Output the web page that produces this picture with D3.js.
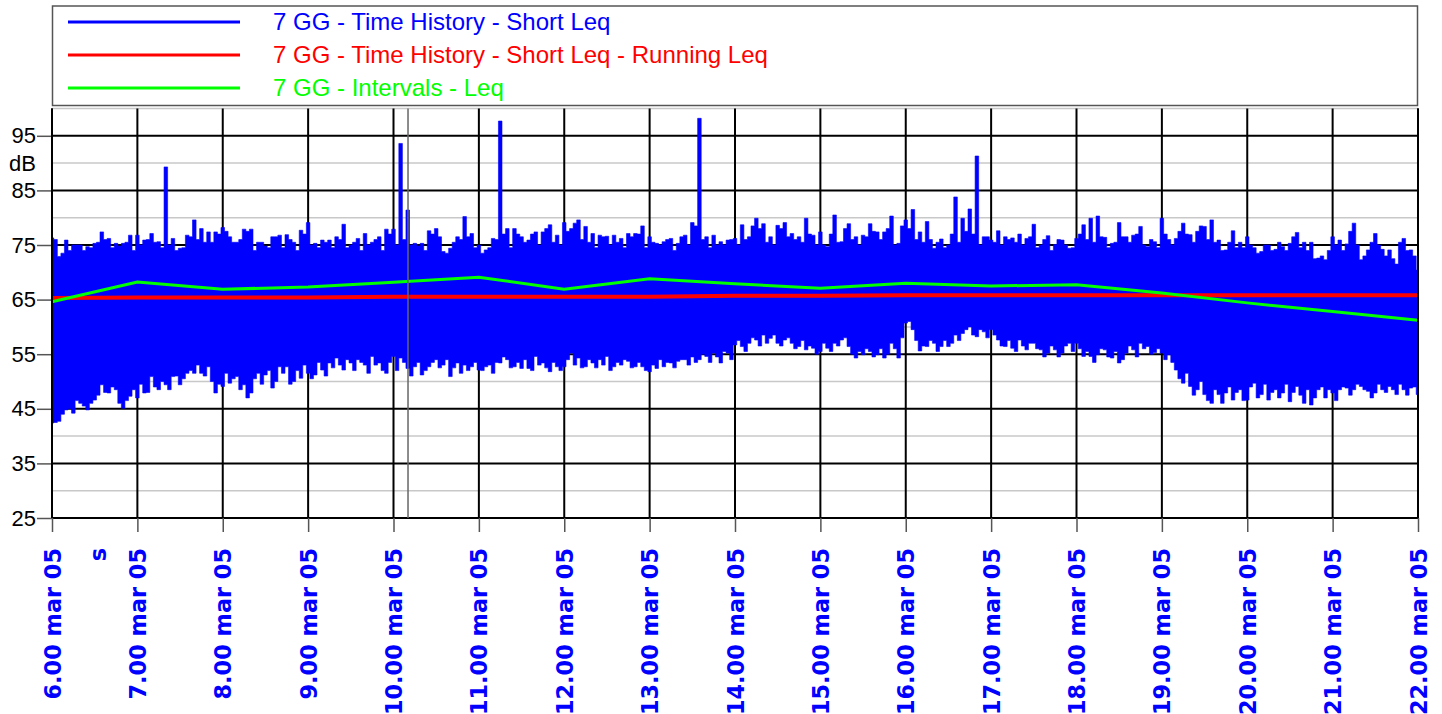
<!DOCTYPE html>
<html>
<head>
<meta charset="utf-8">
<script src="https://cdn.jsdelivr.net/npm/d3@7"></script>
<style>
  html, body { margin: 0; padding: 0; background: #fff; }
  svg { display: block; }
</style>
</head>
<body>
<svg id="chart" width="1442" height="714"></svg>
<script>
// ---- data ---------------------------------------------------------------
// hour ticks and their labels
const hourTicks = [6, 7, 8, 9, 10, 11, 12, 13, 14, 15, 16, 17, 18, 19, 20, 21, 22];
const hourLabels = ["6.00 mar 05", "7.00 mar 05", "8.00 mar 05", "9.00 mar 05", "10.00 mar 05",
  "11.00 mar 05", "12.00 mar 05", "13.00 mar 05", "14.00 mar 05", "15.00 mar 05", "16.00 mar 05",
  "17.00 mar 05", "18.00 mar 05", "19.00 mar 05", "20.00 mar 05", "21.00 mar 05", "22.00 mar 05"];
const majorDb = [25, 35, 45, 55, 65, 75, 85, 95];
const minorDb = [30, 40, 50, 60, 70, 80, 90, 100];

// Intervals - Leq (hourly)
const intervalLeq = [64.6, 68.2, 66.9, 67.3, 68.2, 69.1, 66.9, 68.8, 67.9, 67.1, 68.0, 67.5, 67.7, 66.2, 64.4, 62.8, 61.2];
// Short Leq - Running Leq (hourly)
const runningLeq = [65.3, 65.4, 65.4, 65.4, 65.5, 65.5, 65.5, 65.5, 65.7, 65.7, 65.8, 65.8, 65.8, 65.8, 65.8, 65.8, 65.8];

// Short Leq: maxima and minima on the 5-minute marks (6.00 -> 22.00)
const shortMax = [
  76.3, 72.9, 75.9, 75.0, 75.0, 74.7, 75.3, 77.4, 76.2, 75.3, 75.3, 76.8,
  76.8, 75.9, 77.1, 75.6, 89.3, 76.2, 74.4, 76.8, 79.6, 78.0, 77.4, 77.4,
  78.2, 76.5, 75.5, 77.9, 77.9, 75.5, 74.8, 76.5, 76.8, 76.9, 75.5, 77.7,
  79.1, 75.3, 75.9, 75.9, 76.5, 78.8, 75.0, 76.2, 77.1, 75.5, 76.5, 77.9,
  77.9, 93.6, 81.4, 75.3, 75.3, 77.6, 78.0, 73.8, 74.4, 76.5, 80.2, 77.1,
  75.0, 74.1, 76.2, 97.7, 78.0, 78.0, 76.5, 75.9, 77.4, 77.4, 78.7, 76.8,
  79.1, 78.0, 79.6, 78.4, 77.1, 76.8, 76.6, 76.8, 76.2, 77.1, 77.1, 78.5,
  76.5, 75.3, 75.6, 76.2, 75.3, 76.8, 79.1, 98.2, 76.5, 76.8, 75.6, 75.9,
  76.2, 78.7, 76.5, 79.9, 78.9, 76.5, 78.6, 79.1, 77.1, 76.5, 79.9, 76.8,
  77.4, 74.7, 80.5, 75.6, 78.9, 76.5, 76.8, 78.9, 77.4, 77.4, 80.3, 75.3,
  79.6, 81.5, 77.4, 79.3, 74.4, 76.1, 75.0, 83.8, 79.9, 81.6, 91.3, 76.5,
  75.9, 77.6, 76.5, 76.3, 77.0, 76.2, 78.8, 75.0, 76.7, 75.1, 75.9, 74.4,
  76.2, 78.7, 79.9, 80.3, 76.4, 75.3, 79.1, 76.5, 76.8, 78.4, 74.7, 75.6,
  79.9, 76.0, 76.2, 79.0, 76.9, 77.5, 78.4, 79.6, 75.9, 74.1, 77.6, 75.5,
  76.5, 74.5, 73.8, 75.0, 74.2, 74.7, 75.3, 77.3, 75.5, 75.5, 72.6, 72.3,
  76.5, 75.9, 75.2, 79.0, 72.3, 74.1, 77.1, 74.2, 74.1, 71.5, 76.2, 74.1,
  70.4];
const shortMin = [
  42.4, 42.7, 44.8, 44.2, 46.0, 44.8, 46.6, 49.4, 47.9, 48.5, 45.1, 47.3,
  47.0, 47.9, 50.9, 48.5, 49.4, 50.9, 49.4, 51.5, 51.5, 51.5, 52.7, 47.9,
  49.1, 49.7, 50.9, 49.4, 47.9, 51.5, 51.2, 48.8, 52.7, 52.7, 50.0, 50.6,
  51.5, 51.2, 52.1, 53.4, 54.3, 52.1, 53.4, 54.0, 53.0, 54.6, 53.4, 51.5,
  54.6, 54.3, 52.4, 52.7, 51.2, 52.7, 54.0, 53.0, 50.9, 53.4, 53.0, 52.7,
  52.1, 52.7, 51.5, 53.4, 54.0, 52.7, 52.4, 52.4, 54.6, 53.4, 51.8, 52.7,
  52.7, 55.2, 54.3, 52.7, 53.4, 54.0, 54.6, 52.7, 53.0, 53.7, 52.7, 52.7,
  51.8, 52.4, 52.7, 53.4, 53.7, 54.0, 54.5, 54.0, 54.6, 55.2, 53.4, 55.2,
  56.7, 56.4, 57.0, 57.6, 58.5, 57.9, 57.0, 57.6, 57.0, 56.4, 55.8, 56.1,
  55.5, 56.1, 57.0, 57.6, 56.4, 54.3, 54.9, 55.5, 54.9, 54.3, 57.0, 54.3,
  60.7, 59.5, 55.6, 56.4, 57.0, 56.4, 56.4, 58.5, 58.8, 60.0, 58.2, 59.1,
  59.5, 57.6, 56.4, 56.1, 57.6, 55.8, 57.0, 55.8, 55.2, 55.8, 55.2, 57.0,
  57.0, 54.6, 54.6, 54.9, 55.8, 54.3, 53.4, 55.2, 55.8, 57.0, 56.4, 55.3,
  55.2, 54.9, 52.1, 49.7, 49.1, 48.5, 47.6, 46.0, 47.6, 47.9, 46.6, 48.5,
  46.6, 49.7, 47.6, 46.6, 48.5, 47.9, 46.3, 49.1, 46.0, 45.7, 48.5, 47.0,
  47.9, 48.5, 48.8, 48.5, 49.1, 48.2, 47.9, 48.5, 49.1, 47.6, 48.5, 48.8,
  47.6];
// Short Leq: maxima and minima halfway between the 5-minute marks
const shortMaxHalf = [
  76.0, 73.5, 74.0, 75.0, 74.0, 74.5, 75.5, 76.0, 74.5, 74.8, 75.5, 74.0, 75.0,
  76.0, 75.5, 74.5, 75.0, 74.0, 74.5, 76.5, 76.0, 75.5, 75.5, 77.0, 77.5, 75.5,
  76.0, 77.5, 74.0, 75.5, 74.5, 76.5, 74.5, 76.0, 74.0, 77.0, 75.0, 74.5, 75.5,
  74.5, 76.0, 74.5, 75.5, 74.0, 75.0, 76.0, 74.0, 77.0, 75.0, 76.0, 75.0, 74.8,
  74.0, 77.0, 76.5, 73.5, 75.5, 76.0,
  76.5, 74.5, 73.5, 74.5, 76.0, 77.0, 74.5, 77.0, 75.5, 77.0, 75.0, 78.0, 75.5,
  75.0, 77.5, 79.0, 76.0, 75.5, 74.5, 76.5, 75.0, 75.5, 74.5, 76.5, 77.0, 74.5,
  75.5, 75.0, 76.0, 74.0, 76.5, 75.0,
  78.5, 76.0, 74.5, 75.0, 75.0, 76.0, 75.0, 76.0, 78.5, 78.0, 75.5, 75.0, 78.0,
  76.5, 76.0, 75.5, 77.0, 75.0, 75.0, 77.0, 75.5, 78.0, 76.0, 75.0, 76.5, 77.5,
  76.0, 78.0, 75.0, 78.5, 78.0, 76.0, 75.5,
  76.0, 75.5, 74.5, 77.0, 75.5, 77.5, 77.0, 75.0, 76.5, 75.5, 75.0, 76.0, 75.5,
  75.0, 76.5, 74.5, 76.0, 74.0, 76.0, 75.0, 74.5, 77.0, 76.0, 75.5, 76.5, 74.5,
  75.5, 76.5, 75.5, 77.0, 75.0, 76.0,
  74.5, 77.0, 75.0, 77.5, 77.0, 75.5, 78.5, 76.0, 75.5, 74.0, 75.5, 74.5, 74.5,
  75.0, 73.5, 75.0, 74.0, 75.5, 74.0, 76.5, 74.5, 74.0, 72.5, 73.0, 74.0, 75.0,
  74.0, 77.5, 75.0, 73.0, 75.5, 75.0, 73.0, 72.5, 75.5, 74.0, 73.0];
const shortMinHalf = [
  42.5, 44.0, 45.0, 46.5, 45.5, 46.0, 47.5, 48.0, 49.0, 46.0, 46.5, 48.5, 49.5,
  48.0, 49.0, 50.0, 48.5, 51.0, 50.5, 52.0, 53.0, 51.0, 50.0, 49.5, 51.5, 50.5,
  48.5, 47.0, 50.5, 49.5, 52.0, 50.0, 51.5, 49.5, 52.0, 53.0, 50.5, 53.5, 51.0,
  52.5, 53.0, 54.0, 52.0, 53.5, 51.5, 53.0, 52.0, 53.5, 52.0, 53.5, 51.0, 53.5,
  52.0, 53.5, 52.5, 54.0, 52.5, 51.5,
  52.0, 53.5, 52.0, 53.0, 53.5, 54.5, 52.5, 53.5, 54.0, 52.0, 53.0, 52.5, 53.5,
  52.0, 54.0, 53.0, 52.5, 54.0, 52.5, 53.0, 52.0, 53.5, 54.0, 52.5, 53.5, 52.0,
  53.0, 54.0, 53.5, 52.5, 54.0, 53.0,
  53.5, 55.0, 53.5, 54.5, 55.5, 54.0, 57.5, 55.5, 58.0, 56.5, 57.0, 58.5, 56.5,
  58.0, 56.0, 57.5, 56.5, 55.0, 57.0, 55.5, 56.5, 58.0, 55.0, 55.5, 56.0, 54.5,
  56.0, 55.0, 56.0, 58.0, 61.0, 57.5, 56.5,
  57.5, 55.5, 57.5, 57.0, 57.5, 59.5, 58.5, 59.5, 58.0, 58.5, 56.5, 57.5, 55.5,
  56.5, 57.0, 56.0, 54.5, 56.5, 54.5, 56.5, 55.5, 56.0, 55.5, 53.5, 56.0, 54.5,
  55.5, 54.0, 56.5, 54.5, 56.0, 55.0,
  56.0, 54.0, 53.5, 50.5, 51.5, 47.5, 50.0, 46.5, 48.5, 46.0, 49.0, 48.0, 46.5,
  49.0, 47.0, 49.5, 48.0, 47.0, 49.5, 48.0, 47.5, 48.5, 47.0, 49.0, 48.5, 46.5,
  49.0, 47.5, 49.5, 48.5, 47.0, 49.5, 48.0, 48.5, 49.5, 47.5, 49.0];

// cursor position (hours)
const cursorHour = 10.17;

const seriesNames = [
  "7 GG - Time History - Short Leq",
  "7 GG - Time History - Short Leq - Running Leq",
  "7 GG - Intervals - Leq"
];
const seriesColors = ["#0000ff", "#ff0000", "#00ff00"];

// ---- layout -------------------------------------------------------------
const svg = d3.select("#chart");
const plotL = 52, plotR = 1418, plotT = 108.5, plotB = 518;

const x = d3.scaleLinear().domain([6, 22]).range([plotL, plotR]);
const y = d3.scaleLinear().domain([25, 100]).range([plotB, plotT]);
const stepHour = (22 - 6) / (shortMax.length - 1);

// merge both sample sets in time order
const samples = [];
shortMax.forEach((v, i) => {
  samples.push({ t: 6 + i * stepHour, hi: v, lo: shortMin[i] });
  if (i < shortMaxHalf.length) {
    samples.push({ t: 6 + (i + 0.5) * stepHour, hi: shortMaxHalf[i], lo: shortMinHalf[i] });
  }
});

// ---- legend -------------------------------------------------------------
const legend = svg.append("g");
legend.append("rect")
  .attr("x", 52.5).attr("y", 6).attr("width", 1365).attr("height", 99.5)
  .attr("fill", "#fff").attr("stroke", "#555").attr("stroke-width", 1.5);
seriesNames.forEach((name, i) => {
  const ly = 22 + i * 33;
  legend.append("line")
    .attr("x1", 68).attr("x2", 240).attr("y1", ly).attr("y2", ly)
    .attr("stroke", seriesColors[i]).attr("stroke-width", 3);
  legend.append("text")
    .attr("x", 273).attr("y", ly + 7.5)
    .attr("fill", seriesColors[i])
    .style("font-family", "'Liberation Sans', Arial, sans-serif")
    .style("font-size", "24px")
    .text(name);
});

// ---- grid ---------------------------------------------------------------
const grid = svg.append("g");
grid.selectAll("line.minor").data(minorDb).join("line")
  .attr("class", "minor")
  .attr("x1", plotL).attr("x2", plotR)
  .attr("y1", d => y(d)).attr("y2", d => y(d))
  .attr("stroke", "#c8c8c8").attr("stroke-width", 1.5);
grid.selectAll("line.major").data(majorDb).join("line")
  .attr("class", "major")
  .attr("x1", plotL).attr("x2", plotR)
  .attr("y1", d => y(d)).attr("y2", d => y(d))
  .attr("stroke", "#000").attr("stroke-width", 2);
grid.selectAll("line.vert").data(hourTicks).join("line")
  .attr("class", "vert")
  .attr("x1", d => x(d)).attr("x2", d => x(d))
  .attr("y1", plotT).attr("y2", plotB)
  .attr("stroke", "#000").attr("stroke-width", 2);

// ---- axes ---------------------------------------------------------------
const yAxis = svg.append("g")
  .attr("transform", `translate(${plotL},0)`)
  .call(d3.axisLeft(y).tickValues(majorDb).tickSize(15).tickPadding(1).tickFormat(d3.format("d")));
yAxis.select(".domain").remove();
yAxis.selectAll(".tick line").attr("stroke", "#555").attr("stroke-width", 1.5);
yAxis.selectAll(".tick text")
  .attr("fill", "#000")
  .style("font-family", "'Liberation Sans', Arial, sans-serif")
  .style("font-size", "22px");

svg.append("text")
  .attr("x", 36).attr("y", y(90)).attr("dy", "0.35em")
  .attr("text-anchor", "end")
  .style("font-family", "'Liberation Sans', Arial, sans-serif")
  .style("font-size", "22px")
  .text("dB");

const xAxis = svg.append("g")
  .attr("transform", `translate(0,${plotB})`)
  .call(d3.axisBottom(x).tickValues(hourTicks).tickSize(14)
    .tickFormat((d, i) => hourLabels[i]));
xAxis.select(".domain").remove();
xAxis.selectAll(".tick line").attr("stroke", "#555").attr("stroke-width", 1.5);
xAxis.selectAll(".tick text")
  .attr("transform", "rotate(-90)")
  .attr("x", -30).attr("y", 0).attr("dy", "0.36em")
  .attr("text-anchor", "end")
  .attr("fill", "#0000ff")
  .style("font-family", "'DejaVu Sans', Verdana, sans-serif")
  .style("font-weight", "bold")
  .style("font-size", "22.4px");

svg.append("text")
  .attr("transform", `translate(${x(6.54)},${plotB + 30}) rotate(-90)`)
  .attr("dy", "0.36em")
  .attr("text-anchor", "end")
  .attr("fill", "#0000ff")
  .style("font-family", "'DejaVu Sans', Verdana, sans-serif")
  .style("font-weight", "bold")
  .style("font-size", "22.4px")
  .text("s");

// ---- Short Leq: one stepped column per sample, min to max -----------------
const plot = svg.append("g");
plot.append("path")
  .datum(samples)
  .attr("fill", "#0000ff")
  .attr("stroke", "#0000ff").attr("stroke-width", 0.6)
  .attr("d", d3.area()
    .curve(d3.curveStep)
    .x(d => x(d.t))
    .y0(d => y(d.lo))
    .y1(d => y(d.hi)));

// ---- Running Leq and Intervals Leq ----------------------------------------
plot.append("path")
  .datum(runningLeq)
  .attr("fill", "none").attr("stroke", "#ff0000").attr("stroke-width", 4)
  .attr("d", d3.line().x((d, i) => x(hourTicks[i])).y(d => y(d)));

plot.append("path")
  .datum(intervalLeq)
  .attr("fill", "none").attr("stroke", "#00ff00").attr("stroke-width", 3)
  .attr("d", d3.line().x((d, i) => x(hourTicks[i])).y(d => y(d)));

// cursor
plot.append("line")
  .attr("x1", x(cursorHour)).attr("x2", x(cursorHour))
  .attr("y1", plotT).attr("y2", plotB)
  .attr("stroke", "#666").attr("stroke-width", 1.5);

// plot frame sides
plot.append("line").attr("x1", plotL).attr("x2", plotL).attr("y1", plotT).attr("y2", plotB)
  .attr("stroke", "#000").attr("stroke-width", 2);
plot.append("line").attr("x1", plotR).attr("x2", plotR).attr("y1", plotT).attr("y2", plotB)
  .attr("stroke", "#000").attr("stroke-width", 2);
</script>
</body>
</html>
